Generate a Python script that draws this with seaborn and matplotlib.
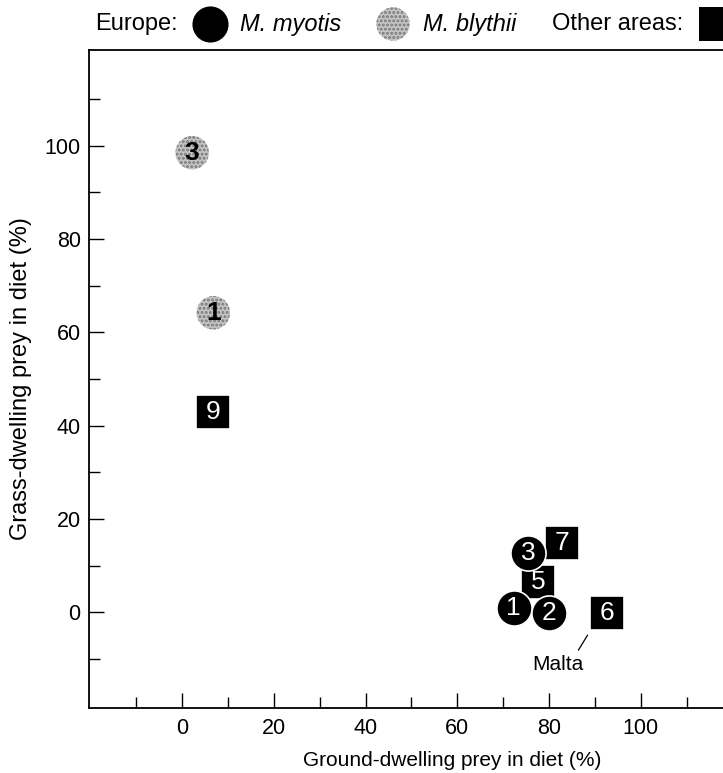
import matplotlib
matplotlib.use("Agg")
import matplotlib.pyplot as plt
import seaborn as sns
import pandas as pd
from matplotlib.lines import Line2D

# ---- data ----
myotis_labels = ["1", "2", "3"]
myotis_ground = [72.3, 79.9, 75.5]
myotis_grass = [0.9, -0.2, 12.8]

blythii_labels = ["1", "3"]
blythii_ground = [6.8, 2.2]
blythii_grass = [64.2, 98.5]

other_labels = ["5", "6", "7", "9"]
other_ground = [77.7, 92.6, 82.8, 6.8]
other_grass = [6.4, -0.2, 14.8, 43.0]

major_ticks = [0, 20, 40, 60, 80, 100]
minor_ticks = [-10, 10, 30, 50, 70, 90, 110]

x_label = "Ground-dwelling prey in diet (%)"
y_label = "Grass-dwelling prey in diet (%)"
malta_label = "Malta"
malta_xy = (88.4, -4.9)
malta_text_xy = (81.9, -11.1)

sns.set_style("white")
plt.rcParams["font.family"] = ["Liberation Sans", "DejaVu Sans"]
plt.rcParams["hatch.linewidth"] = 1.4
for k in ["text.color", "axes.labelcolor", "xtick.color", "ytick.color"]:
    plt.rcParams[k] = "black"

W, H = 723, 773
fig = plt.figure(figsize=(W / 100, H / 100), dpi=100)
# axes box in pixels: left 89, right 815 (cropped), top 50, bottom 708
L, R, T, B = 89, 815, 50, 708
ax = fig.add_axes([L / W, 1 - B / H, (R - L) / W, (B - T) / H])

df_m = pd.DataFrame({"x": myotis_ground, "y": myotis_grass, "lab": myotis_labels})
df_b = pd.DataFrame({"x": blythii_ground, "y": blythii_grass, "lab": blythii_labels})
df_o = pd.DataFrame({"x": other_ground, "y": other_grass, "lab": other_labels})

sns.scatterplot(data=df_o, x="x", y="y", marker="s", s=600, color="black",
                edgecolor="white", linewidth=1.2, ax=ax, zorder=3, legend=False)
sns.scatterplot(data=df_m, x="x", y="y", marker="o", s=640, color="black",
                edgecolor="white", linewidth=1.2, ax=ax, zorder=4, legend=False)
sns.scatterplot(data=df_b, x="x", y="y", marker="o", s=580, facecolor="#c4c4c4",
                edgecolor="#767676", linewidth=0.0, hatch="....", ax=ax, zorder=4,
                legend=False)

for d, col, fw in [(df_o, "white", "normal"), (df_m, "white", "normal"),
                   (df_b, "black", "bold")]:
    for _, r in d.iterrows():
        ax.text(r["x"], r["y"], r["lab"], color=col, fontsize=19, fontweight=fw,
                ha="center", va="center", zorder=6)

ax.annotate(malta_label, xy=malta_xy, xytext=malta_text_xy, fontsize=15,
            ha="center", va="center",
            arrowprops=dict(arrowstyle="-", color="black", lw=0.9,
                            shrinkA=1, shrinkB=0, relpos=(0.85, 1.0)))

ax.set_xlim(-20.3, 138)
ax.set_ylim(-20.5, 120.5)
ax.set_xticks(major_ticks)
ax.set_yticks(major_ticks)
ax.set_xticks(minor_ticks, minor=True)
ax.set_yticks(minor_ticks, minor=True)
ax.tick_params(which="both", direction="in", bottom=True, left=True, top=False,
               right=False, width=1.0, colors="black")
ax.tick_params(which="major", length=11, labelsize=15.5)
ax.tick_params(axis="x", which="major", pad=7)
ax.tick_params(axis="y", which="major", pad=6)
ax.tick_params(which="minor", length=8)
for s in ax.spines.values():
    s.set_color("black")
    s.set_linewidth(1.3)

ax.set_xlabel(x_label, fontsize=15, labelpad=9)
ax.set_ylabel(y_label, fontsize=17, labelpad=9)

# ---- legend row above the axes ----
ly = 1 - 24 / H
fig.text(95 / W, ly, "Europe:", fontsize=17, ha="left", va="center")
fig.add_artist(Line2D([210 / W], [ly], marker="o", markersize=26, color="black",
                      markeredgewidth=0, transform=fig.transFigure))
fig.text(240 / W, ly, "M. myotis", fontsize=17, style="italic", ha="left", va="center")
leg_gray = ax.scatter([393 / W], [ly], s=576, marker="o", facecolor="#c4c4c4",
                      edgecolor="#767676", linewidths=0.0, hatch="....",
                      transform=fig.transFigure, clip_on=False, zorder=10)
fig.text(423 / W, ly, "M. blythii", fontsize=17, style="italic", ha="left", va="center")
fig.text(552 / W, ly, "Other areas:", fontsize=17, ha="left", va="center")
fig.add_artist(Line2D([716 / W], [ly], marker="s", markersize=25, color="black",
                      markeredgewidth=0, transform=fig.transFigure))

fig.savefig("out.png", dpi=100)
